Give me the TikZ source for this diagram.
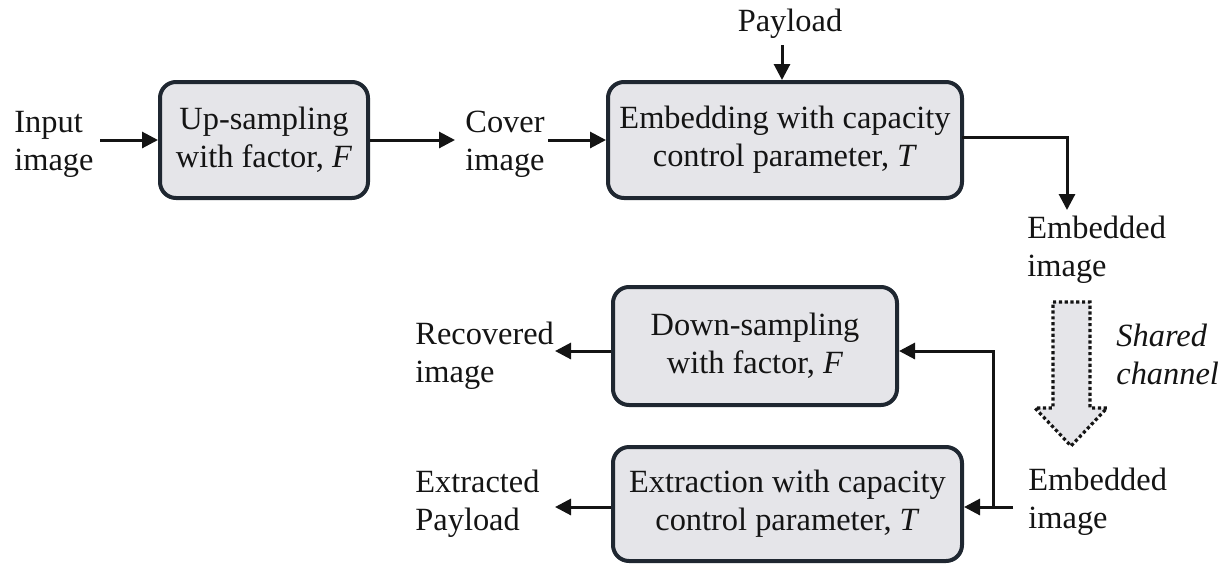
\documentclass[tikz,border=0pt]{standalone}
\usepackage{fontspec}
\setmainfont{Liberation Serif}
\usetikzlibrary{arrows.meta,calc}
\definecolor{boxfill}{HTML}{E5E5E9}
\definecolor{boxline}{HTML}{1F2731}
\definecolor{ink}{HTML}{141414}
\begin{document}
\begin{tikzpicture}[x=0.5pt,y=-0.5pt,
  every node/.style={font=\fontsize{16.2}{19}\selectfont, text=ink},
  blk/.style={draw=boxline, fill=boxfill, line width=2pt, rounded corners=8pt,
    align=center, inner sep=0pt},
  lbl/.style={align=left, anchor=west, inner sep=0pt},
  conn/.style={draw=ink, line width=1.5pt, -{Triangle[length=8pt,width=8pt]}},
  plain/.style={draw=ink, line width=1.5pt}]
\useasboundingbox (0,0) rectangle (1232,563);

% boxes
\node[blk, minimum width=104pt, minimum height=58pt] (up) at (264,140)
  {Up-sampling\\with factor, \textit{F}};
\node[blk, minimum width=177pt, minimum height=58pt] (emb) at (785,140)
  {Embedding with capacity\\control parameter, \textit{T}};
\node[blk, minimum width=142pt, minimum height=59pt] (down) at (755,346)
  {Down-sampling\\with factor, \textit{F}};
\node[blk, minimum width=174.5pt, minimum height=57pt] (ext) at (787.5,504)
  {Extraction with capacity\\control parameter, \textit{T}};

% labels
\node[lbl] (inimg) at (14,144) {Input\\image};
\node[lbl] (cover) at (465,144) {Cover\\image};
\node[inner sep=0pt] (pay) at (790,24) {Payload};
\node[lbl] (embA) at (1027,250) {Embedded\\image};
\node[lbl] (share) at (1116,354) {\textit{Shared}\\\textit{channel}};
\node[lbl] (rec) at (415,356) {Recovered\\image};
\node[lbl] (extp) at (415,504) {Extracted\\Payload};
\node[lbl] (embB) at (1028,502) {Embedded\\image};

% coordinates
\coordinate (inS) at (100,140);
\coordinate (covW) at (455,140);
\coordinate (covE) at (548,140);
\coordinate (payS) at (782,45);
\coordinate (embR) at (962,137);
\coordinate (embE) at (1067,210);
\coordinate (recE) at (555,351);
\coordinate (extE) at (555,507);
\coordinate (embBS) at (1013,507);
\coordinate (jn) at (993,507);
\coordinate (jt) at (993,351);

% connectors
\draw[conn] (inS) -- (up.west);
\draw[conn] (up.east) -- (covW);
\draw[conn] (covE) -- (emb.west);
\draw[conn] (payS) -- (payS |- emb.north);
\draw[conn] (embR) -| (embE);
\draw[conn] (down.west |- recE) -- (recE);
\draw[conn] (ext.west |- extE) -- (extE);
\draw[conn] (embBS) -- (ext.east |- embBS);
\draw[conn] (jn) -- (jt) -- (down.east |- jt);

% shared channel arrow
\draw[draw=ink, fill=boxfill, line width=1.6pt, dash pattern=on 1.6pt off 1.3pt]
  (1053,302) -- (1090,302) -- (1090,408) -- (1107,408) -- (1071,446)
  -- (1035,408) -- (1053,408) -- cycle;
\end{tikzpicture}
\end{document}
